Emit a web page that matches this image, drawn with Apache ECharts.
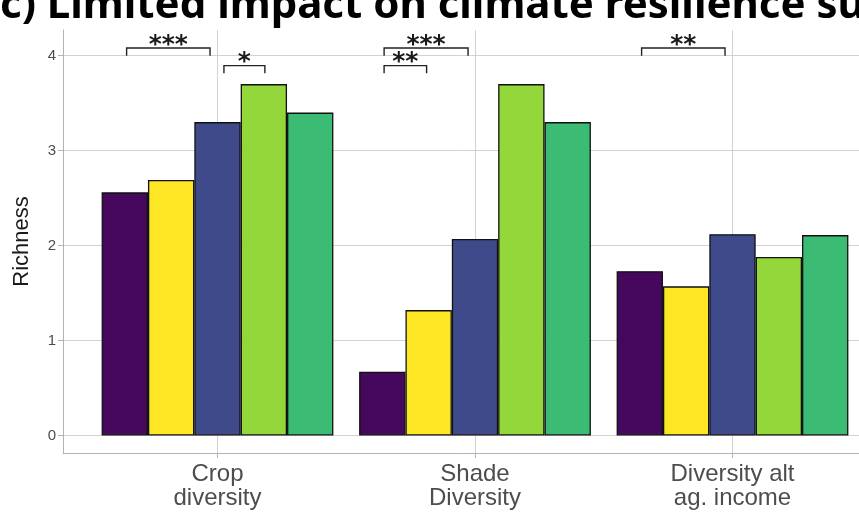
<!DOCTYPE html>
<html>
<head>
<meta charset="utf-8">
<script src="https://cdn.jsdelivr.net/npm/echarts@6/dist/echarts.min.js"></script>
<style>
  html, body { margin: 0; padding: 0; background: #ffffff; }
  #chart { width: 859px; height: 513px; }
</style>
</head>
<body>
<div id="chart"></div>
<script>
// Category positions on the x scale and their labels
const categories = ['Crop\ndiversity', 'Shade\nDiversity', 'Diversity alt\nag. income'];
const catPos = [1, 2, 3];

// Mean richness per group, one array per fill colour
const purpleVals = [2.56, 0.67, 1.73];
const yellowVals = [2.69, 1.32, 1.57];
const blueVals   = [3.30, 2.07, 2.12];
const limeVals   = [3.70, 3.70, 1.88];
const greenVals  = [3.40, 3.30, 2.11];

const yTicks = [0, 1, 2, 3, 4];

// Significance brackets: start x, end x, bracket height, star label
const bracketStart = [0.647, 1.025, 1.647, 1.647, 2.647];
const bracketEnd   = [0.971, 1.184, 1.973, 1.812, 2.971];
const bracketTop   = [4.08, 3.895, 4.08, 3.895, 4.08];
const bracketText  = ['***', '*', '***', '**', '**'];
const tipDrop = 0.08;

const chart = echarts.init(document.getElementById('chart'), null, { renderer: 'canvas' });

const fills = ['#46085c', '#fde725', '#3e4a89', '#94d73a', '#3cbb75'];
const valueSets = [purpleVals, yellowVals, blueVals, limeVals, greenVals];
const groupNames = ['G1', 'G2', 'G3', 'G4', 'G5'];

const barSeries = valueSets.map((vals, k) => ({
  name: groupNames[k],
  type: 'bar',
  barGap: '0%',
  barCategoryGap: '10%',
  data: vals.map((v, i) => [catPos[i], v]),
  itemStyle: { color: fills[k], borderColor: '#111111', borderWidth: 1.3 },
  emphasis: { disabled: true },
  silent: true
}));

const bracketData = bracketStart.map((s, i) => [s, bracketEnd[i], bracketTop[i]]);

const bracketSeries = {
  type: 'custom',
  silent: true,
  clip: false,
  encode: { x: [0, 1], y: 2 },
  data: bracketData,
  renderItem: function (params, api) {
    const i = params.dataIndex;
    const x1 = api.value(0), x2 = api.value(1), top = api.value(2);
    const a = api.coord([x1, top - tipDrop]);
    const b = api.coord([x1, top]);
    const c = api.coord([x2, top]);
    const d = api.coord([x2, top - tipDrop]);
    return {
      type: 'group',
      children: [
        {
          type: 'polyline',
          shape: { points: [a, b, c, d] },
          style: { stroke: '#222222', lineWidth: 1.4, fill: null }
        },
        {
          type: 'text',
          style: {
            text: bracketText[i],
            x: (b[0] + c[0]) / 2,
            y: b[1] - 3,
            textAlign: 'center',
            textVerticalAlign: 'middle',
            font: 'bold 25px "DejaVu Sans"',
            fill: '#1a1a1a'
          }
        }
      ]
    };
  }
};

const option = {
  backgroundColor: '#ffffff',
  animation: false,
  title: {
    text: 'c) Limited impact on climate resilience sur',
    left: 0,
    top: -15,
    padding: 0,
    textStyle: {
      fontFamily: 'Noto Sans',
      fontWeight: 'bold',
      fontSize: 42,
      lineHeight: 42,
      color: '#000000'
    }
  },
  grid: {
    left: 63,
    right: -28,
    top: 30,
    bottom: 60,
    containLabel: false,
    outerBoundsMode: 'none'
  },
  xAxis: {
    type: 'value',
    min: 0.4,
    max: 3.6,
    axisLine: { show: true, onZero: false, lineStyle: { color: '#b3b3b3', width: 1 } },
    axisTick: { show: true, customValues: catPos, length: 5, lineStyle: { color: '#b3b3b3', width: 1 } },
    axisLabel: {
      customValues: catPos,
      formatter: function (v) { return categories[Math.round(v) - 1]; },
      fontFamily: 'Liberation Sans',
      fontSize: 24,
      lineHeight: 24,
      color: '#4d4d4d',
      margin: 9
    },
    splitLine: { show: true, lineStyle: { color: '#d2d2d2', width: 1 } }
  },
  yAxis: {
    type: 'value',
    min: -0.185,
    max: 4.27,
    name: 'Richness',
    nameLocation: 'middle',
    nameGap: 30,
    nameRotate: 90,
    nameTextStyle: { fontFamily: 'Liberation Sans', fontSize: 22, color: '#1a1a1a' },
    axisLine: { show: true, onZero: false, lineStyle: { color: '#b3b3b3', width: 1 } },
    axisTick: { show: true, customValues: yTicks, length: 5, lineStyle: { color: '#b3b3b3', width: 1 } },
    axisLabel: {
      customValues: yTicks,
      fontFamily: 'Liberation Sans',
      fontSize: 15,
      color: '#4d4d4d',
      margin: 7
    },
    splitLine: { show: true, lineStyle: { color: '#d2d2d2', width: 1 } }
  },
  series: barSeries.concat([bracketSeries])
};

chart.setOption(option);
</script>
</body>
</html>
